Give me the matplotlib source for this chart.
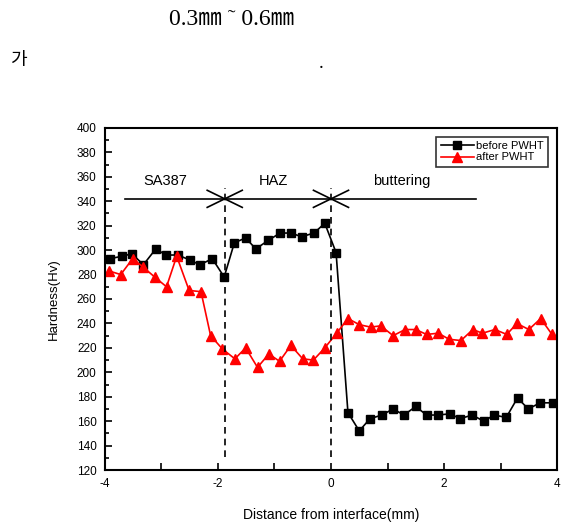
import numpy as np
import matplotlib.pyplot as plt
from matplotlib.ticker import MultipleLocator

plt.rcParams['axes.unicode_minus'] = False

# -------------------------------
# Hardness profile data
# -------------------------------
dist_before = [-3.91, -3.70, -3.52, -3.32, -3.10, -2.92, -2.71, -2.50, -2.32, -2.10,
               -1.89, -1.71, -1.51, -1.33, -1.11, -0.90, -0.71, -0.52, -0.30, -0.11,
               0.09, 0.30, 0.50, 0.69, 0.90, 1.10, 1.29, 1.50, 1.69, 1.89,
               2.11, 2.28, 2.50, 2.70, 2.89, 3.10, 3.30, 3.49, 3.70, 3.92]
hv_before = [293, 295, 297, 288, 301, 296, 296, 292, 288, 293,
             278, 306, 310, 301, 308, 314, 314, 311, 314, 322,
             298, 167, 152, 162, 165, 170, 165, 172, 165, 165,
             166, 162, 165, 160, 165, 163, 179, 170, 175, 175]

dist_after = [-3.93, -3.72, -3.51, -3.32, -3.12, -2.91, -2.73, -2.51, -2.30, -2.13,
              -1.92, -1.70, -1.51, -1.30, -1.10, -0.91, -0.71, -0.50, -0.31, -0.11,
              0.10, 0.30, 0.50, 0.70, 0.88, 1.10, 1.31, 1.50, 1.69, 1.90,
              2.09, 2.30, 2.51, 2.68, 2.90, 3.11, 3.29, 3.50, 3.71, 3.91]
hv_after = [283, 280, 293, 286, 278, 270, 295, 267, 266, 230,
            219, 211, 220, 204, 215, 209, 222, 211, 210, 220,
            232, 244, 239, 237, 238, 230, 235, 235, 231, 232,
            227, 226, 235, 232, 235, 231, 240, 235, 244, 231]

# zone boundaries and labels
boundaries = [-1.88, 0.0]
zone_names = ["SA387", "HAZ", "buttering"]
zone_x = [-2.94, -1.02, 1.26]

kr_font = ['Liberation Serif', 'Noto Sans CJK KR']

fig = plt.figure(figsize=(5.61, 5.30), dpi=100)
ax = fig.add_axes([0.187, 0.1132, 0.806, 0.6453])

# -------------------------------
# Surrounding document text
# -------------------------------
fig.text(0.412, 0.964, "0.3\u339c \u02dc 0.6\u339c", family=kr_font,
         fontsize=17, ha='center', va='center')
fig.text(0.033, 0.886, "\uac00", family=['Noto Sans CJK KR', 'DejaVu Sans'],
         fontsize=13, ha='center', va='center')
fig.text(0.573, 0.880, ".", family=kr_font, fontsize=14, ha='center', va='center')

# -------------------------------
# Series
# -------------------------------
ax.plot(dist_before, hv_before, color='black', marker='s', markersize=6,
        linewidth=1.2, label='before PWHT')
ax.plot(dist_after, hv_after, color='red', marker='^', markersize=7,
        linewidth=1.2, label='after PWHT')

# -------------------------------
# Zone annotations
# -------------------------------
ax.plot([-3.65, 2.56], [342, 342], color='black', linewidth=1.2)
for b in boundaries:
    ax.plot([b, b], [131, 351], color='black', linewidth=1.2, linestyle=(0, (4, 3)))
    ax.plot([b - 0.31, b + 0.31], [349, 335], color='black', linewidth=1.2)
    ax.plot([b - 0.31, b + 0.31], [335, 349], color='black', linewidth=1.2)
for name, zx in zip(zone_names, zone_x):
    ax.text(zx, 357, name, fontsize=10.5, family='Liberation Sans',
            ha='center', va='center')

# -------------------------------
# Styling
# -------------------------------
ax.set_xlim(-4, 4)
ax.set_ylim(120, 400)
ax.xaxis.set_major_locator(MultipleLocator(2))
ax.xaxis.set_minor_locator(MultipleLocator(1))
ax.yaxis.set_major_locator(MultipleLocator(20))
ax.yaxis.set_minor_locator(MultipleLocator(10))
ax.tick_params(axis='both', which='both', direction='in', top=False, right=False,
               labelsize=8.5, width=1.2)
ax.tick_params(axis='both', which='major', length=5, pad=6)
ax.tick_params(axis='x', which='minor', length=5)
ax.tick_params(axis='y', which='minor', length=3)
for lbl in ax.get_xticklabels() + ax.get_yticklabels():
    lbl.set_family('Liberation Sans')
for s in ax.spines.values():
    s.set_linewidth(1.5)

ax.set_xlabel("Distance from interface(mm)", fontsize=10, family='Liberation Sans',
              labelpad=13)
ax.set_ylabel("Hardness(Hv)", fontsize=9.5, family='Liberation Sans', labelpad=12)

leg = ax.legend(loc='upper right', prop={'family': 'Liberation Sans', 'size': 8},
                frameon=True, fancybox=False, handlelength=3,
                borderaxespad=0.8, labelspacing=0.1, handletextpad=0.2,
                borderpad=0.4)
leg.get_frame().set_edgecolor('black')
leg.get_frame().set_linewidth(1.2)

fig.savefig("out.png", dpi=100)
